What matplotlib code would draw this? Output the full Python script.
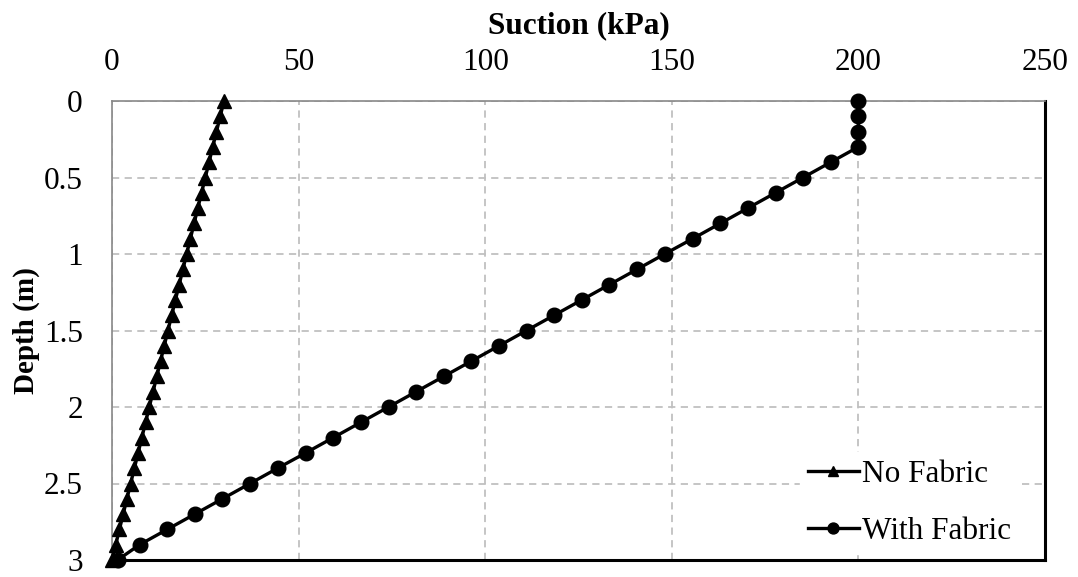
import matplotlib
matplotlib.use("Agg")
import matplotlib.pyplot as plt

plt.rcParams['font.family'] = ['Liberation Serif', 'DejaVu Serif']

depth = [0.0, 0.1, 0.2, 0.3, 0.4, 0.5, 0.6, 0.7, 0.8, 0.9, 1.0,
         1.1, 1.2, 1.3, 1.4, 1.5, 1.6, 1.7, 1.8, 1.9, 2.0,
         2.1, 2.2, 2.3, 2.4, 2.5, 2.6, 2.7, 2.8, 2.9, 3.0]
no_fabric = [30, 29, 28, 27, 26, 25, 24, 23, 22, 21, 20,
             19, 18, 17, 16, 15, 14, 13, 12, 11, 10,
             9, 8, 7, 6, 5, 4, 3, 2, 1, 0]
with_fabric = [200, 200, 200, 200, 192.6, 185.2, 177.8, 170.4, 163.0, 155.6, 148.1,
               140.7, 133.3, 125.9, 118.5, 111.1, 103.7, 96.3, 88.9, 81.5, 74.1,
               66.7, 59.3, 51.9, 44.4, 37.0, 29.6, 22.2, 14.8, 7.4, 1.5]
x_ticks = [0, 50, 100, 150, 200, 250]
y_ticks = [0, 0.5, 1, 1.5, 2, 2.5, 3]
y_ticklabels = ['0', '0.5', '1', '1.5', '2', '2.5', '3']

fig = plt.figure(figsize=(10.78, 5.77), dpi=100)
ax = fig.add_axes([112/1078, 1-560/577, (1045-112)/1078, (560-101)/577])

ax.plot(no_fabric, depth, color='black', lw=2.4, marker='^', ms=10,
        label='No Fabric', clip_on=False, zorder=4)
ax.plot(with_fabric, depth, color='black', lw=2.4, marker='o', ms=10.5,
        label='With Fabric', clip_on=False, zorder=4)

ax.set_xlim(0, 250)
ax.set_ylim(3, 0)
ax.set_xticks(x_ticks)
ax.set_yticks(y_ticks)
ax.set_yticklabels(y_ticklabels)
ax.xaxis.tick_top()
ax.xaxis.set_label_position('top')
ax.tick_params(axis='both', length=0, labelsize=22.5)
ax.tick_params(axis='x', pad=17)
ax.tick_params(axis='y', pad=21)
ax.set_xlabel('Suction (kPa)', fontsize=22.5, fontweight='bold', labelpad=11)
ax.set_ylabel('Depth (m)', fontsize=21, fontweight='bold', labelpad=3)

ax.grid(True, color='#c0c0c0', ls=(0, (4, 3)), lw=1.3, zorder=0)
ax.set_axisbelow(True)

for s in ['top', 'left']:
    ax.spines[s].set_color('#888888')
    ax.spines[s].set_linewidth(1.2)
for s in ['right', 'bottom']:
    ax.spines[s].set_color('black')
    ax.spines[s].set_linewidth(2.2)

leg = ax.legend(loc='lower right', bbox_to_anchor=(0.979, 0.0),
                fontsize=22.5, frameon=True, fancybox=False,
                handlelength=1.65, handletextpad=0.1, borderpad=0.25,
                labelspacing=0.9, borderaxespad=0.2, markerscale=0.75)
leg.get_frame().set_edgecolor('white')
leg.get_frame().set_facecolor('white')
leg.get_frame().set_alpha(1)
leg.set_zorder(3)

fig.savefig('out.png', dpi=100)
